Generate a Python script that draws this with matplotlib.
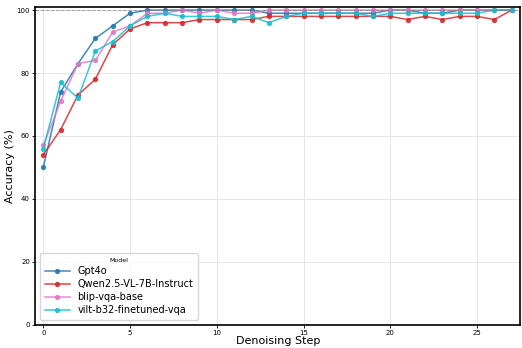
import numpy as np
import matplotlib
matplotlib.use("Agg")
import matplotlib.pyplot as plt

steps = np.arange(0, 28)

gpt4o = [50, 74, 83, 91, 95, 99, 100, 100, 100, 100, 100, 100, 100, 99,
         99, 99, 99, 99, 99, 99, 100, 100, 99, 99, 100, 100, 100, 100]
qwen = [54, 62, 73, 78, 89, 94, 96, 96, 96, 97, 97, 97, 97, 98,
        98, 98, 98, 98, 98, 98, 98, 97, 98, 97, 98, 98, 97, 100]
blip = [57, 71, 83, 84, 93, 95, 99, 99, 100, 99, 100, 99, 99, 100,
        100, 100, 100, 100, 100, 100, 100, 100, 100, 100, 100, 100, 100, 100]
vilt = [56, 77, 72, 87, 90, 95, 98, 99, 98, 98, 98, 97, 98, 96,
        98, 99, 99, 99, 99, 98, 99, 99, 99, 99, 99, 99, 100, 100]

series = [
    ("Gpt4o", gpt4o, "tab:blue"),
    ("Qwen2.5-VL-7B-Instruct", qwen, "tab:red"),
    ("blip-vqa-base", blip, "tab:pink"),
    ("vilt-b32-finetuned-vqa", vilt, "tab:cyan"),
]

fig, ax = plt.subplots(figsize=(5.22, 3.48), dpi=100)
fig.subplots_adjust(left=0.068, right=0.997, top=0.98, bottom=0.067)

for name, vals, col in series:
    ax.plot(steps, vals, marker="o", markersize=2.8, linewidth=1.1,
            color=col, alpha=0.85, label=name)

ax.axhline(100, color="gray", linestyle="--", linewidth=0.7, alpha=0.7)

ax.set_xlim(-0.45, 27.5)
ax.set_ylim(0, 101)
ax.set_xticks([0, 5, 10, 15, 20, 25])
ax.set_yticks([0, 20, 40, 60, 80, 100])
ax.tick_params(labelsize=5, length=2, width=0.6, pad=2)
ax.grid(True, color="#e6e6e6", linewidth=0.7)
ax.set_axisbelow(True)
for s in ax.spines.values():
    s.set_linewidth(1.2)

ax.set_xlabel("Denoising Step", fontsize=8, labelpad=0)
ax.set_ylabel("Accuracy (%)", fontsize=8, labelpad=1)

leg = ax.legend(title="Model", loc="lower left", fontsize=7,
                title_fontsize=4.5, handlelength=2.5, borderpad=0.5,
                labelspacing=0.3, handletextpad=0.8)

fig.savefig("out.png", dpi=100)
